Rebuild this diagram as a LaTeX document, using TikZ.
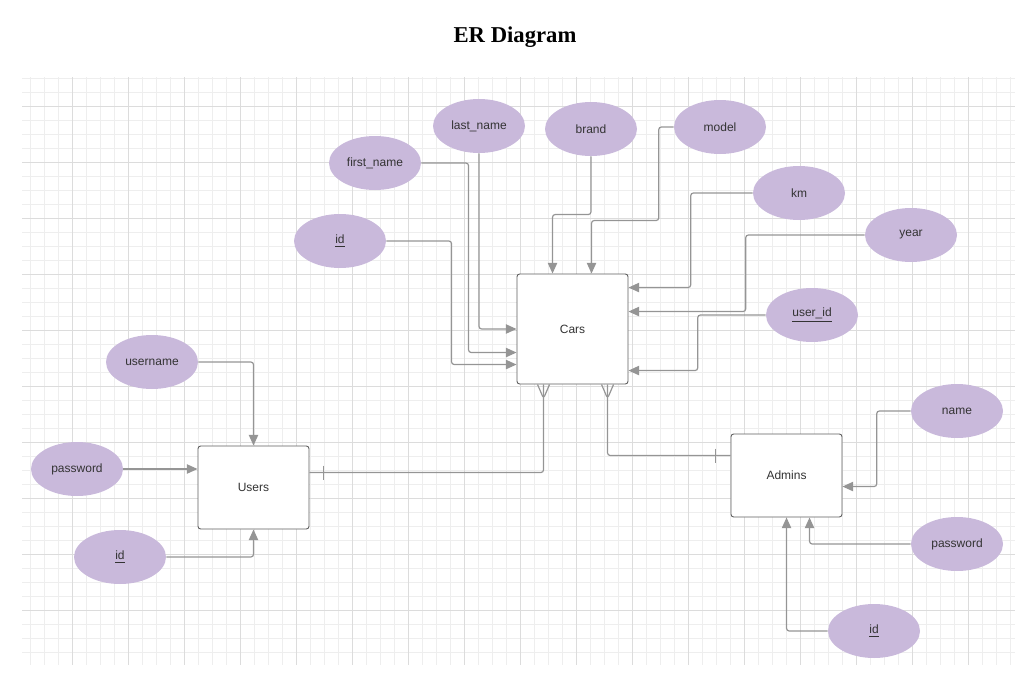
\documentclass[tikz,border=0pt]{standalone}
\usepackage{fontspec}
\setmainfont{Liberation Sans}
\newfontfamily\titlefont{Liberation Serif}
\usetikzlibrary{arrows.meta,shapes.geometric,calc}
\definecolor{attrcol}{HTML}{C9B9DB}
\definecolor{linkcol}{HTML}{959595}
\definecolor{gridminor}{HTML}{EEEEEE}
\definecolor{gridmajor}{HTML}{DCDCDC}
\definecolor{boxcol}{HTML}{5E5E5E}
\definecolor{txtcol}{HTML}{333333}

\begin{document}
\begin{tikzpicture}[x=0.75pt, y=-0.75pt,
  attr/.style={ellipse, fill=attrcol, minimum width=69pt, minimum height=40.5pt,
               inner sep=0pt, text=txtcol, font=\fontsize{9}{11}\selectfont},
  entity/.style={draw=boxcol, line width=0.7pt, rounded corners=2pt, fill=white,
                 minimum width=83.25pt, inner sep=0pt, text=txtcol,
                 font=\fontsize{9}{11}\selectfont},
  link/.style={draw=linkcol, line width=0.9pt, rounded corners=2pt,
               -{Triangle[length=8pt,width=7pt]}},
  rel/.style={draw=linkcol, line width=0.9pt, rounded corners=2pt}]

  \useasboundingbox (0,0) rectangle (1036,675);

  % grid
  \begin{scope}
    \clip (22,77) rectangle (1015,665);
    \foreach \gx in {30,44,...,1015} \draw[gridminor, line width=0.5pt] (\gx,77) -- (\gx,665);
    \foreach \gy in {78,92,...,665} \draw[gridminor, line width=0.5pt] (22,\gy) -- (1015,\gy);
    \foreach \gx in {72,128,...,1015} \draw[gridmajor, line width=0.6pt] (\gx,77) -- (\gx,665);
    \foreach \gy in {106,162,...,665} \draw[gridmajor, line width=0.6pt] (22,\gy) -- (1015,\gy);
  \end{scope}

  \node[font=\titlefont\bfseries\fontsize{17}{20}\selectfont] (title) at (515,37) {ER Diagram};

  % entities
  \node[entity, minimum height=82.5pt] (cars) at (572.5,329) {Cars};
  \node[entity, minimum height=62.25pt] (users) at (253.5,487.5) {Users};
  \node[entity, minimum height=62.25pt] (admins) at (786.5,475.5) {Admins};

  % attributes of Cars
  \node[attr] (lname) at (479,126) {last\_name};
  \node[attr] (brand) at (591,129) {brand};
  \node[attr] (model) at (720,127) {model};
  \node[attr] (fname) at (375,163) {first\_name};
  \node[attr] (km) at (799,193) {km};
  \node[attr] (year) at (911,235) {year};
  \node[attr] (cid) at (340,241) {\underline{id}};
  \node[attr] (userid) at (812,315) {\underline{user\_id}};

  % attributes of Users
  \node[attr] (uname) at (152,362) {username};
  \node[attr] (upass) at (77,469) {password};
  \node[attr] (uid) at (120,557) {\underline{id}};

  % attributes of Admins
  \node[attr] (aname) at (957,411) {name};
  \node[attr] (apass) at (957,544) {password};
  \node[attr] (aid) at (874,631) {\underline{id}};

  % Cars links
  \draw[link] (lname.south) |- (cars.west);
  \draw[link] (fname.east) -| ($(cars.north west)+(-48,79)$) -- ($(cars.north west)+(0,79)$);
  \draw[link] (cid.east) -| ($(cars.north west)+(-65,91)$) -- ($(cars.north west)+(0,91)$);
  \draw[link] (brand.south) |- ($(cars.north west)+(36,-59)$) -- ($(cars.north west)+(36,0)$);
  \draw[link] (model.west) -- ++(-15,0) |- ($(cars.north west)+(75,-53)$) -- ($(cars.north west)+(75,0)$);
  \draw[link] (km.west) -- ++(-62,0) |- ($(cars.north east)+(0,14)$);
  \draw[link] (year.west) -- ++(-119,0) |- ($(cars.north east)+(0,38)$);
  \draw[link] (userid.west) -- ++(-68,0) |- ($(cars.north east)+(0,97)$);

  % Users links
  \draw[link] (uname.east) -| (users.north);
  \draw[link] (upass.east) -- (upass.east -| users.west);
  \draw[link] (uid.east) -| (users.south);

  % Admins links
  \draw[link] (aname.west) -- ++(-34,0) |- ($(admins.north east)+(0,53)$);
  \draw[link] (apass.west) -| ($(admins.south west)+(79,0)$);
  \draw[link] (aid.west) -| ($(admins.south west)+(56,0)$);

  % relationships
  \draw[rel] ($(cars.south west)+(27,0)$) |- ($(users.north east)+(0,27)$);
  \draw[rel] ($(cars.south west)+(21,0)$) -- ($(cars.south west)+(27,14)$) -- ($(cars.south west)+(33,0)$);
  \draw[rel] ($(users.north east)+(14,20)$) -- ($(users.north east)+(14,34)$);

  \draw[rel] ($(cars.south west)+(91,0)$) |- ($(admins.north west)+(0,22)$);
  \draw[rel] ($(cars.south west)+(85,0)$) -- ($(cars.south west)+(91,14)$) -- ($(cars.south west)+(97,0)$);
  \draw[rel] ($(admins.north west)+(-15,15)$) -- ($(admins.north west)+(-15,29)$);
\end{tikzpicture}
\end{document}
